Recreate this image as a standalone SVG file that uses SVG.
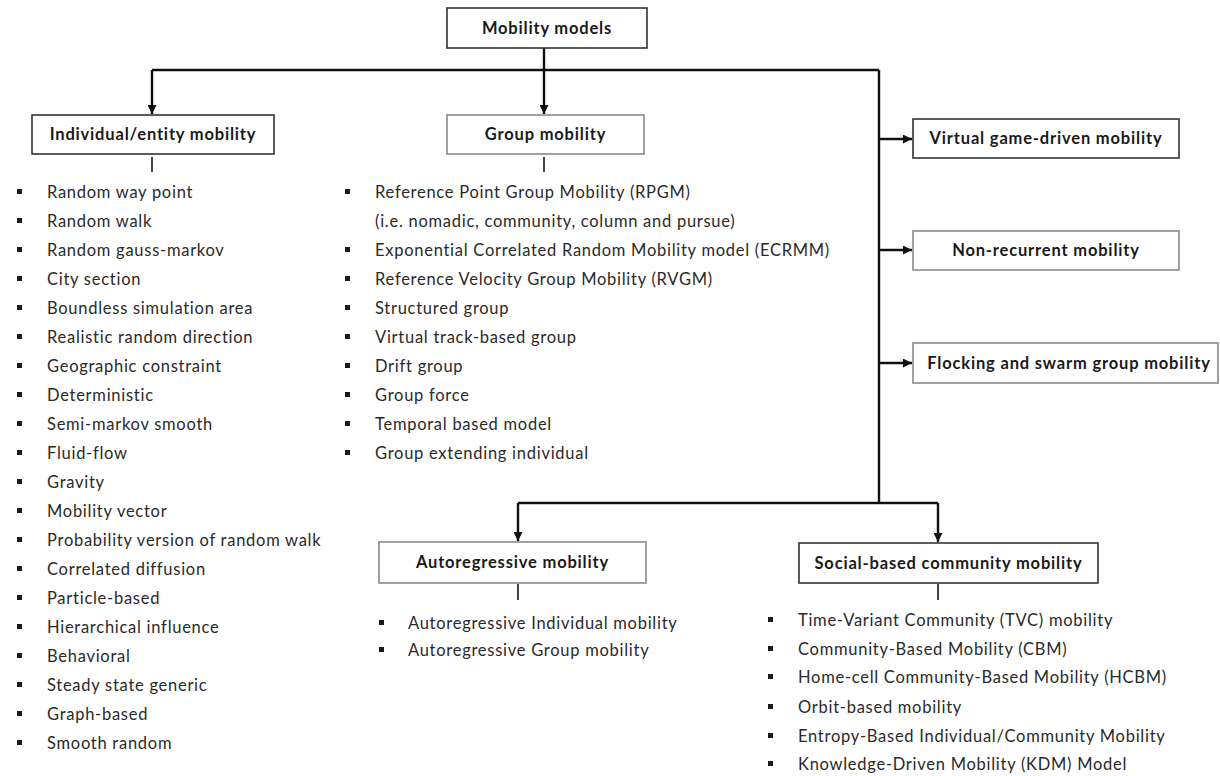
<svg xmlns="http://www.w3.org/2000/svg" width="1220" height="776" viewBox="0 0 1220 776">
  <style>
    .box { fill: #ffffff; stroke: #333333; stroke-width: 1.6; }
    .box-light { fill: #ffffff; stroke: #8a8a8a; stroke-width: 1.6; }
    .head { font-family: Lato, "Liberation Sans", sans-serif; font-weight: bold; font-size: 16.5px; letter-spacing: 0.82px; fill: #1a1a1a; text-anchor: middle; }
    .item { font-family: Lato, "Liberation Sans", sans-serif; font-size: 16.5px; letter-spacing: 0.73px; fill: #2a2a2a; }
    .bullet { fill: #1a1a1a; }
    .wire { fill: none; stroke: #111111; stroke-width: 2.4; }
    .stub { fill: none; stroke: #444444; stroke-width: 2; }
  </style>
  <defs>
    <marker id="arrow" viewBox="0 0 10 10" refX="10" refY="5" markerWidth="9" markerHeight="9" markerUnits="userSpaceOnUse" orient="auto">
      <path d="M0,0 L10,5 L0,10 Z" fill="#111111"/>
    </marker>
  </defs>

  <rect width="1220" height="776" fill="#ffffff"/>

  <!-- connectors -->
  <g id="connectors">
    <line class="wire" x1="544" y1="48" x2="544" y2="114" marker-end="url(#arrow)"/>
    <path class="wire" d="M152,70 H879"/>
    <path class="wire" d="M152,70 V114" marker-end="url(#arrow)"/>
    <path class="wire" d="M879,70 V503"/>
    <path class="wire" d="M879,139 H912" marker-end="url(#arrow)"/>
    <path class="wire" d="M879,250 H912" marker-end="url(#arrow)"/>
    <path class="wire" d="M879,363 H912" marker-end="url(#arrow)"/>
    <path class="wire" d="M518,503 H938"/>
    <path class="wire" d="M518,503 V541" marker-end="url(#arrow)"/>
    <path class="wire" d="M938,503 V542" marker-end="url(#arrow)"/>
    <line class="stub" x1="152" y1="157" x2="152" y2="172"/>
    <line class="stub" x1="544" y1="157" x2="544" y2="172"/>
    <line class="stub" x1="518" y1="584" x2="518" y2="600"/>
    <line class="stub" x1="938" y1="584" x2="938" y2="600"/>
  </g>

  <!-- root -->
  <g id="mobility-models">
    <rect class="box" x="447" y="8" width="200" height="40"/>
    <text class="head" x="547" y="34">Mobility models</text>
  </g>

  <!-- individual / entity mobility -->
  <g id="individual-mobility">
    <rect class="box" x="32" y="115" width="242" height="39"/>
    <text class="head" x="153" y="140">Individual/entity mobility</text>
    <g class="bullet">
      <rect x="17" y="189" width="5" height="5"/>
      <rect x="17" y="218" width="5" height="5"/>
      <rect x="17" y="247" width="5" height="5"/>
      <rect x="17" y="276" width="5" height="5"/>
      <rect x="17" y="305" width="5" height="5"/>
      <rect x="17" y="334" width="5" height="5"/>
      <rect x="17" y="363" width="5" height="5"/>
      <rect x="17" y="392" width="5" height="5"/>
      <rect x="17" y="421" width="5" height="5"/>
      <rect x="17" y="450" width="5" height="5"/>
      <rect x="17" y="479" width="5" height="5"/>
      <rect x="17" y="508" width="5" height="5"/>
      <rect x="17" y="537" width="5" height="5"/>
      <rect x="17" y="566" width="5" height="5"/>
      <rect x="17" y="595" width="5" height="5"/>
      <rect x="17" y="624" width="5" height="5"/>
      <rect x="17" y="653" width="5" height="5"/>
      <rect x="17" y="682" width="5" height="5"/>
      <rect x="17" y="711" width="5" height="5"/>
      <rect x="17" y="740" width="5" height="5"/>
    </g>
    <text class="item" x="47" y="198">Random way point</text>
    <text class="item" x="47" y="227">Random walk</text>
    <text class="item" x="47" y="256">Random gauss-markov</text>
    <text class="item" x="47" y="285">City section</text>
    <text class="item" x="47" y="314">Boundless simulation area</text>
    <text class="item" x="47" y="343">Realistic random direction</text>
    <text class="item" x="47" y="372">Geographic constraint</text>
    <text class="item" x="47" y="401">Deterministic</text>
    <text class="item" x="47" y="430">Semi-markov smooth</text>
    <text class="item" x="47" y="459">Fluid-flow</text>
    <text class="item" x="47" y="488">Gravity</text>
    <text class="item" x="47" y="517">Mobility vector</text>
    <text class="item" x="47" y="546">Probability version of random walk</text>
    <text class="item" x="47" y="575">Correlated diffusion</text>
    <text class="item" x="47" y="604">Particle-based</text>
    <text class="item" x="47" y="633">Hierarchical influence</text>
    <text class="item" x="47" y="662">Behavioral</text>
    <text class="item" x="47" y="691">Steady state generic</text>
    <text class="item" x="47" y="720">Graph-based</text>
    <text class="item" x="47" y="749">Smooth random</text>
  </g>

  <!-- group mobility -->
  <g id="group-mobility">
    <rect class="box-light" x="447" y="115" width="197" height="39"/>
    <text class="head" x="545.5" y="140">Group mobility</text>
    <g class="bullet">
      <rect x="345" y="189" width="5" height="5"/>
      <rect x="345" y="247" width="5" height="5"/>
      <rect x="345" y="276" width="5" height="5"/>
      <rect x="345" y="305" width="5" height="5"/>
      <rect x="345" y="334" width="5" height="5"/>
      <rect x="345" y="363" width="5" height="5"/>
      <rect x="345" y="392" width="5" height="5"/>
      <rect x="345" y="421" width="5" height="5"/>
      <rect x="345" y="450" width="5" height="5"/>
    </g>
    <text class="item" x="375" y="198">Reference Point Group Mobility (RPGM)</text>
    <text class="item" x="375" y="227">(i.e. nomadic, community, column and pursue)</text>
    <text class="item" x="375" y="256">Exponential Correlated Random Mobility model (ECRMM)</text>
    <text class="item" x="375" y="285">Reference Velocity Group Mobility (RVGM)</text>
    <text class="item" x="375" y="314">Structured group</text>
    <text class="item" x="375" y="343">Virtual track-based group</text>
    <text class="item" x="375" y="372">Drift group</text>
    <text class="item" x="375" y="401">Group force</text>
    <text class="item" x="375" y="430">Temporal based model</text>
    <text class="item" x="375" y="459">Group extending individual</text>
  </g>

  <!-- right-hand categories -->
  <g id="virtual-game-driven">
    <rect class="box" x="913" y="119" width="266" height="39"/>
    <text class="head" x="1046" y="144">Virtual game-driven mobility</text>
  </g>
  <g id="non-recurrent">
    <rect class="box-light" x="913" y="231" width="266" height="39"/>
    <text class="head" x="1046" y="256">Non-recurrent mobility</text>
  </g>
  <g id="flocking-swarm">
    <rect class="box-light" x="913" y="343" width="305" height="40"/>
    <text class="head" x="1069" y="369">Flocking and swarm group mobility</text>
  </g>

  <!-- autoregressive mobility -->
  <g id="autoregressive">
    <rect class="box-light" x="379" y="542" width="267" height="41"/>
    <text class="head" x="512.5" y="568">Autoregressive mobility</text>
    <g class="bullet">
      <rect x="379" y="620" width="5" height="5"/>
      <rect x="379" y="647" width="5" height="5"/>
    </g>
    <text class="item" x="408" y="629">Autoregressive Individual mobility</text>
    <text class="item" x="408" y="656">Autoregressive Group mobility</text>
  </g>

  <!-- social-based community mobility -->
  <g id="social-community">
    <rect class="box" x="799" y="543" width="299" height="40"/>
    <text class="head" x="948.5" y="569">Social-based community mobility</text>
    <g class="bullet">
      <rect x="768" y="617" width="5" height="5"/>
      <rect x="768" y="646" width="5" height="5"/>
      <rect x="768" y="674" width="5" height="5"/>
      <rect x="768" y="704" width="5" height="5"/>
      <rect x="768" y="733" width="5" height="5"/>
      <rect x="768" y="761" width="5" height="5"/>
    </g>
    <text class="item" x="798" y="626">Time-Variant Community (TVC) mobility</text>
    <text class="item" x="798" y="655">Community-Based Mobility (CBM)</text>
    <text class="item" x="798" y="683">Home-cell Community-Based Mobility (HCBM)</text>
    <text class="item" x="798" y="713">Orbit-based mobility</text>
    <text class="item" x="798" y="742">Entropy-Based Individual/Community Mobility</text>
    <text class="item" x="798" y="770">Knowledge-Driven Mobility (KDM) Model</text>
  </g>
</svg>
